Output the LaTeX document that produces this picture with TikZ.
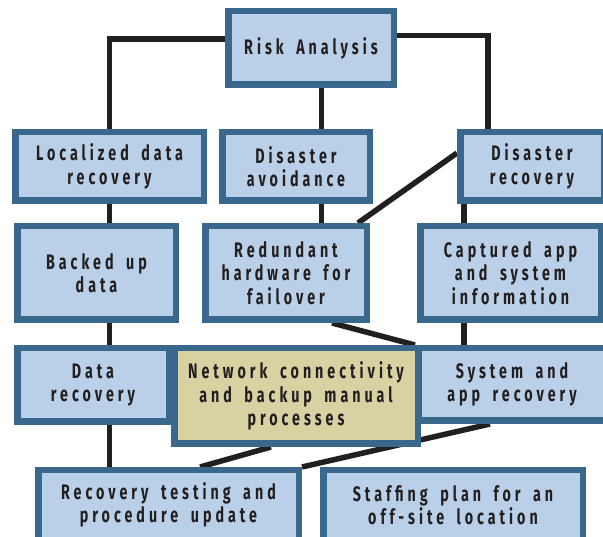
\documentclass[tikz,border=0pt]{standalone}
\usepackage{fontspec}
\newfontfamily\boxfont{Fira Sans}[FakeStretch=0.68, LetterSpace=19, WordSpace=1.7]
\usetikzlibrary{backgrounds}
\definecolor{boxedge}{RGB}{58,104,140}
\definecolor{boxfill}{RGB}{186,208,233}
\definecolor{tanfill}{RGB}{216,210,162}
\definecolor{ink}{RGB}{35,31,32}
\tikzset{
  box/.style n args={2}{draw=boxedge, fill=boxfill, line width=6.5pt,
    rectangle, inner sep=0pt, align=center,
    minimum width=#1-6.5pt, minimum height=#2-6.5pt,
    font=\boxfont\bfseries\fontsize{21}{23.5}\selectfont, text=ink},
  link/.style={draw=ink, line width=5.5pt},
}
\begin{document}
\begin{tikzpicture}[x=1pt, y=-1pt]
\useasboundingbox (0,0) rectangle (603,537);

% top level
\node[box={172pt}{80pt}] (risk) at (311,48) {Risk Analysis};

% second row
\node[box={195pt}{75pt}] (loc)   at (109.5,166.5) {Localized data\\recovery};
\node[box={154pt}{75pt}] (avoid) at (296,166.5)   {Disaster\\avoidance};
\node[box={150pt}{75pt}] (drec)  at (532,166.5)   {Disaster\\recovery};

% third row
\node[box={165pt}{100pt}] (backed) at (96.5,273)  {Backed up\\data};
\node[box={168pt}{100pt}] (redund) at (286,273)   {Redundant\\hardware for\\failover};
\node[box={187pt}{100pt}] (capt)   at (510.5,273) {Captured app\\and system\\information};

% fourth row (the middle box overlaps its neighbours)
\node[box={158pt}{80pt}] (datarec) at (93,385)    {Data\\recovery};
\node[box={194pt}{79pt}] (sysrec)  at (512,384.5) {System and\\app recovery};
\node[box={250pt}{102pt}, fill=tanfill] (network) at (296,396)
  {Network connectivity\\and backup manual\\processes};

% bottom row
\node[box={267pt}{76pt}] (rectest) at (168.5,505) {Recovery testing and\\procedure update};
\node[box={266pt}{76pt}] (staff)   at (453,505)   {Staffing plan for an\\off-site location};

% connectors, behind the boxes
\begin{scope}[on background layer]
  \draw[link] ([yshift=9pt]risk.west) -| (loc.north);
  \draw[link] ([xshift=10.5pt]risk.south) -- ([xshift=10.5pt]risk.south |- avoid.north);
  \draw[link] ([yshift=12.5pt]risk.east) -| ([xshift=-44pt]drec.north);

  \draw[link] (loc.south) -- (loc.south |- backed.north);
  \draw[link] ([xshift=10.5pt]risk.south |- avoid.south) -- ([xshift=10.5pt]risk.south |- redund.north);
  \draw[link] ([xshift=-68pt]drec.south) -- ([xshift=-68pt]drec.south |- capt.north);
  \draw[link] ([yshift=13.5pt]drec.west) -- ([xshift=-12pt]redund.north east);

  \draw[link] (loc.south |- backed.south) -- (loc.south |- datarec.north);
  \draw[link] ([xshift=46pt]redund.south) -- (sysrec.north west);
  \draw[link] ([xshift=-68pt]drec.south |- capt.south) -- ([xshift=-68pt]drec.south |- sysrec.north);

  \draw[link] (loc.south |- datarec.south) -- (loc.south |- rectest.north);
  \draw[link] ([xshift=-25pt]network.south) -- ([xshift=31.5pt]rectest.north);
  \draw[link] ([xshift=-22pt]sysrec.south) -- (rectest.north east);
\end{scope}
\end{tikzpicture}
\end{document}
